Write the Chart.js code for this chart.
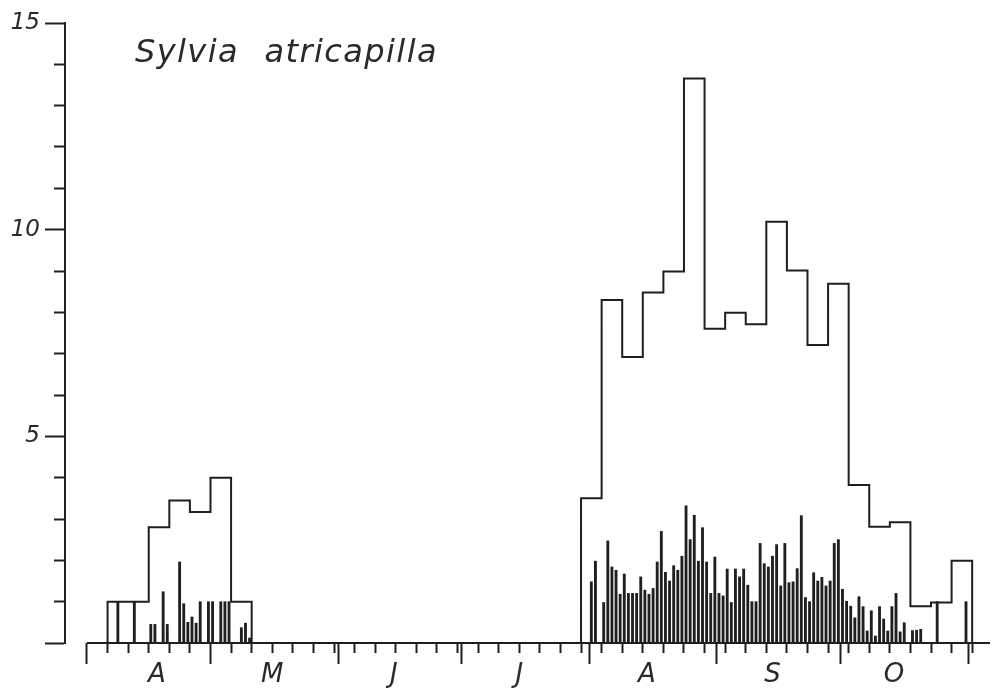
<!DOCTYPE html>
<html>
<head>
<meta charset="utf-8">
<script src="https://cdn.jsdelivr.net/npm/chart.js@4/dist/chart.umd.min.js"></script>
<style>
  html, body { margin: 0; padding: 0; background: #fff; }
  #quadro { position: relative; width: 994px; height: 691px; }
  #titulo {
    position: absolute; left: 135px; top: 32px;
    font: italic 32px "DejaVu Sans", sans-serif;
    letter-spacing: 1.4px; word-spacing: 14px;
    color: #2a2a2a; white-space: nowrap;
  }
</style>
</head>
<body>
<div id="quadro">
  <canvas id="grafico" width="994" height="691"></canvas>
  <div id="titulo">Sylvia atricapilla</div>
</div>
<script>
// --- Dados (x em dias desde 1 de abril) ---
const rotulosMeses = ["A", "M", "J", "J", "A", "S", "O"];
const posRotulos = [17, 45, 74.5, 105, 136, 166.5, 196];
const inicioMeses = [0, 30, 61, 91, 122, 153, 183, 214];
const ticksY = [0, 5, 10, 15];

// histograma por pentadas (5 dias)
const inicioPentPrimavera = 5;
const pentadasPrimavera = [1.0, 1.0, 2.8, 3.45, 3.17, 4.0, 1.0];
const inicioPentOutono = 120;
const pentadasOutono = [3.5, 8.3, 6.92, 8.48, 8.99, 13.66, 7.6, 7.99, 7.71, 10.19,
  9.01, 7.21, 8.69, 3.82, 2.81, 2.92, 0.89, 0.98, 1.99];

// valores diários (barras finas)
const inicioDiasPrimavera = 7;
const diasPrimavera = [1.0, 0, 0, 0, 1.0, 0, 0, 0, 0.45, 0.45, 0, 1.24, 0.45, 0, 0,
  1.96, 0.95, 0.5, 0.63, 0.48, 1.0, 0, 1.0, 1.0, 0, 1.0, 1.0, 1.0, 0, 0, 0.37, 0.48, 0.12];
const inicioDiasOutono = 122;
const diasOutono = [1.48, 1.98, 0, 0.98, 2.47, 1.84, 1.76, 1.18, 1.67, 1.2,
  1.2, 1.2, 1.6, 1.28, 1.18, 1.32, 1.96, 2.7, 1.71, 1.5,
  1.87, 1.76, 2.1, 3.32, 2.5, 3.09, 1.98, 2.79, 1.96, 1.2,
  2.08, 1.2, 1.14, 1.79, 0.98, 1.79, 1.6, 1.79, 1.4, 1.0,
  1.0, 2.41, 1.92, 1.84, 2.1, 2.38, 1.38, 2.41, 1.46, 1.48,
  1.8, 3.08, 1.1, 1.0, 1.7, 1.5, 1.59, 1.38, 1.5, 2.41,
  2.5, 1.3, 1.01, 0.89, 0.61, 1.12, 0.88, 0.29, 0.78, 0.17,
  0.88, 0.58, 0.29, 0.88, 1.2, 0.27, 0.49, 0, 0.3, 0.31,
  0.33, 0, 0, 0, 1.0, 0, 0, 0, 0, 0, 0, 1.0];

const xMin = -5.34;
const xMax = 219.33;
const corTinta = "#1f1f1f";

// --- Montagem das séries ---
function montarHistograma(inicio, valores) {
  const pts = [{ x: inicio, y: 0 }];
  valores.forEach((v, i) => pts.push({ x: inicio + i * 5, y: v }));
  pts.push({ x: inicio + valores.length * 5, y: 0 });
  return pts;
}

function montarBarras(inicio, valores) {
  const pts = [];
  valores.forEach((v, i) => {
    if (v > 0) pts.push({ x: inicio + i + 0.5, y: v });
  });
  return pts;
}

const histograma = montarHistograma(inicioPentPrimavera, pentadasPrimavera)
  .concat([{ x: 40, y: null }])
  .concat(montarHistograma(inicioPentOutono, pentadasOutono));

const barras = montarBarras(inicioDiasPrimavera, diasPrimavera)
  .concat(montarBarras(inicioDiasOutono, diasOutono));

// ticks curtos: pentadas + inícios de mês
const ticksPentadas = [];
for (let d = 0; d <= 215; d += 5) ticksPentadas.push(d);
const ticksCurtos = Array.from(new Set(ticksPentadas.concat(inicioMeses))).sort((a, b) => a - b);
const ticksMeses = inicioMeses.concat(posRotulos).sort((a, b) => a - b);

const fonteRotulo = { family: "DejaVu Sans", style: "italic", size: 26, lineHeight: 1 };

// --- Gráfico ---
const ctx = document.getElementById("grafico").getContext("2d");
new Chart(ctx, {
  type: "bar",
  data: {
    datasets: [
      {
        type: "bar",
        data: barras,
        xAxisID: "x",
        yAxisID: "y",
        backgroundColor: corTinta,
        borderWidth: 0,
        barThickness: 2.2
      },
      {
        type: "line",
        data: histograma,
        xAxisID: "x",
        yAxisID: "y",
        stepped: true,
        borderColor: corTinta,
        borderWidth: 2,
        pointRadius: 0,
        fill: false,
        clip: false
      },
      {
        type: "line",
        data: [{ x: 0, y: 0 }, { x: xMax, y: 0 }],
        xAxisID: "x",
        yAxisID: "y",
        borderColor: corTinta,
        borderWidth: 2,
        pointRadius: 0,
        fill: false,
        clip: false
      }
    ]
  },
  options: {
    responsive: false,
    animation: false,
    events: [],
    devicePixelRatio: 1,
    layout: { padding: { top: 23, right: 4, left: 0, bottom: 0 } },
    plugins: {
      legend: { display: false },
      tooltip: { enabled: false }
    },
    scales: {
      x: {
        type: "linear", axis: "x", position: "bottom", weight: 0,
        min: xMin, max: xMax, bounds: "data", offset: false,
        border: { display: false },
        grid: { offset: false, drawOnChartArea: false, drawTicks: true, tickLength: 10, tickWidth: 2, tickColor: corTinta },
        ticks: { display: false },
        afterBuildTicks: (s) => { s.ticks = ticksCurtos.map(v => ({ value: v })); },
        afterFit: (s) => { s.height = 10; }
      },
      xm: {
        type: "linear", axis: "x", position: "bottom", weight: 1,
        min: xMin, max: xMax, bounds: "data", offset: false,
        border: { display: false },
        grid: {
          offset: false, drawOnChartArea: false, drawTicks: true, tickLength: 11, tickWidth: 2,
          tickColor: (c) => inicioMeses.includes(c.tick.value) ? corTinta : "rgba(0,0,0,0)"
        },
        ticks: {
          autoSkip: false, maxRotation: 0, padding: -2, color: "#2a2a2a", font: fonteRotulo,
          callback: (v) => {
            const i = posRotulos.indexOf(v);
            return i >= 0 ? rotulosMeses[i] : "";
          }
        },
        afterBuildTicks: (s) => { s.ticks = ticksMeses.map(v => ({ value: v })); },
        afterFit: (s) => { s.height = 38; }
      },
      y: {
        type: "linear", axis: "y", position: "left", weight: 0,
        min: 0, max: 15,
        border: { display: true, width: 2, color: corTinta },
        grid: { drawOnChartArea: false, drawTicks: true, tickLength: 11, tickWidth: 2, tickColor: corTinta },
        ticks: { display: false },
        afterBuildTicks: (s) => {
          const t = [];
          for (let v = 0; v <= 15; v++) t.push({ value: v });
          s.ticks = t;
        },
        afterFit: (s) => { s.width = 11; }
      },
      ym: {
        type: "linear", axis: "y", position: "left", weight: 1,
        min: 0, max: 15,
        border: { display: false },
        grid: { drawOnChartArea: false, drawTicks: true, tickLength: 9, tickWidth: 2, tickColor: corTinta },
        ticks: {
          autoSkip: false, padding: 5, color: "#2a2a2a",
          font: { family: "DejaVu Sans", style: "italic", size: 23 },
          callback: (v) => v === 0 ? "" : String(v)
        },
        afterBuildTicks: (s) => { s.ticks = ticksY.map(v => ({ value: v })); },
        afterFit: (s) => { s.width = 54; }
      }
    }
  }
});
</script>
</body>
</html>
